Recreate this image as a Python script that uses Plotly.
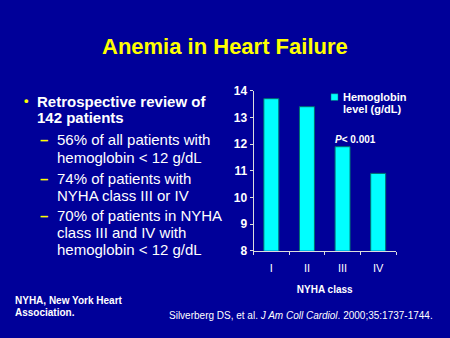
import plotly.graph_objects as go

W, H = 450, 338

# Chart data
nyha_classes = ["I", "II", "III", "IV"]
hemoglobin = [13.7, 13.4, 11.9, 10.9]
y_ticks = [8, 9, 10, 11, 12, 13, 14]
series_lines = ["Hemoglobin", "level (g/dL)"]
p_label = "<i>P</i>< 0.001"

# Slide text
title = "Anemia in Heart Failure"
bullet_lines = ["Retrospective review of", "142 patients"]
sub_items = [
    ["56% of all patients with", "hemoglobin < 12 g/dL"],
    ["74% of patients with", "NYHA class III or IV"],
    ["70% of patients in NYHA", "class III and IV with", "hemoglobin < 12 g/dL"],
]
footnote = ["NYHA, New York Heart", "Association."]
citation = "Silverberg DS, et al. <i>J Am Coll Cardiol</i>. 2000;35:1737-1744."

BG = "#000099"
CYAN = "#00FFFF"
YELLOW = "#FFFF00"
FONT = "Liberation Sans, Arial, sans-serif"


def fx(px):
    return px / W


def fy(py):
    return 1 - py / H


fig = go.Figure()
fig.add_trace(go.Bar(
    x=nyha_classes, y=hemoglobin, width=0.42,
    marker=dict(color=CYAN, line=dict(color="#007070", width=1)),
    name=" ".join(series_lines), showlegend=False, hoverinfo="skip",
))

ann = []


def text(x, y, s, size, color="white", anchor="left", bold=False):
    ann.append(dict(
        x=fx(x), y=fy(y), xref="paper", yref="paper",
        text=f"<b>{s}</b>" if bold else s, showarrow=False,
        xanchor=anchor, yanchor="middle",
        font=dict(family=FONT, size=size, color=color),
    ))


# Title
text(225, 41.5, title, 22, YELLOW, "center", True)

# Main bullet
text(26.5, 98, "•", 13, YELLOW, "center", True)
for line, y in zip(bullet_lines, [98.3, 115.0]):
    text(35, y, line, 15, bold=True)

# Sub-bullets
sub_y = [[138.5, 156.7], [178.5, 196.7], [217.0, 235.0, 253.3]]
for lines, ys in zip(sub_items, sub_y):
    text(43.5, ys[0], "–", 15, YELLOW, "center", True)
    for line, y in zip(lines, ys):
        text(55, y, line, 15)

# Footnote and citation
for line, y in zip(footnote, [306.7, 319.0]):
    text(12.5, y, line, 10, bold=True)
text(166.5, 321.7, citation, 10)

# Legend entry
for line, y in zip(series_lines, [94.0, 106.0]):
    text(340.5, y, line, 11, bold=True)

# Significance label above class III
ann.append(dict(
    x="III", y=hemoglobin[2], xref="x", yref="y",
    text=f"<b>{p_label}</b>", showarrow=False,
    xanchor="center", yanchor="bottom", xshift=13, yshift=0,
    font=dict(family=FONT, size=10, color="white"),
))

fig.update_layout(
    width=W, height=H, autosize=False,
    margin=dict(l=0, r=0, t=0, b=0),
    paper_bgcolor=BG, plot_bgcolor=BG,
    annotations=ann,
    shapes=[dict(
        type="rect", xref="paper", yref="paper",
        x0=fx(331), x1=fx(338), y0=fy(97.5), y1=fy(90.5),
        fillcolor=CYAN, line=dict(color="#007070", width=0.5),
    )],
    xaxis=dict(
        domain=[fx(253.5), fx(396)],
        showline=True, linecolor="#DDDDDD", linewidth=1,
        ticks="outside", tickson="boundaries", ticklen=3, tickcolor="#DDDDDD",
        ticklabelstandoff=7,
        tickfont=dict(family=FONT, size=11, color="white"),
        showgrid=False, zeroline=False,
        title=dict(text="<b>NYHA class</b>", standoff=13,
                   font=dict(family=FONT, size=10, color="white")),
    ),
    yaxis=dict(
        domain=[fy(254.3), fy(87.3)], range=[8, 14],
        tickvals=y_ticks,
        showline=True, linecolor="#DDDDDD", linewidth=1,
        ticks="outside", ticklen=3, tickcolor="#DDDDDD",
        tickfont=dict(family=FONT, size=12, color="white", weight="bold"),
        showgrid=False, zeroline=False,
    ),
)

fig.write_html("out.html")
